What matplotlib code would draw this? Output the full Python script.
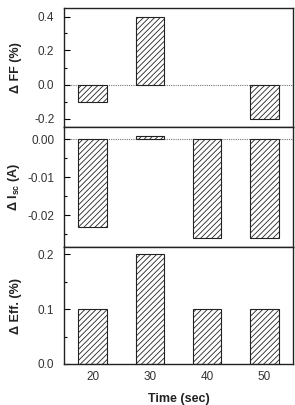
import matplotlib
matplotlib.use("Agg")
import matplotlib.pyplot as plt
from matplotlib.ticker import MultipleLocator, FormatStrFormatter

plt.rcParams['font.family'] = ['Liberation Sans', 'DejaVu Sans']
plt.rcParams['mathtext.fontset'] = 'custom'
plt.rcParams['mathtext.rm'] = 'Liberation Sans:bold'
plt.rcParams['mathtext.bf'] = 'Liberation Sans:bold'
plt.rcParams['mathtext.default'] = 'bf'
plt.rcParams['hatch.linewidth'] = 0.6
plt.rcParams['hatch.color'] = '#333333'

times = [20, 30, 40, 50]
d_ff = [-0.1, 0.4, 0.0, -0.2]
d_isc = [-0.023, 0.0008, -0.026, -0.026]
d_eff = [0.1, 0.2, 0.1, 0.1]

fig = plt.figure(figsize=(2.95, 4.05), dpi=100)
L, R = 64 / 295, 293 / 295
bounds = [(8, 127), (127, 247), (247, 364)]
axes = []
for (t, b) in bounds:
    ax = fig.add_axes([L, 1 - b / 405, R - L, (b - t) / 405])
    axes.append(ax)

panels = [
    (d_ff, (-0.25, 0.45), 0.2, 0.1, '%.1f', 'Δ FF (%)', True),
    (d_isc, (-0.0283, 0.0032), 0.01, 0.005, '%.2f', r'Δ I$_{sc}$ (A)', True),
    (d_eff, (0.0, 0.213), 0.1, 0.05, '%.1f', 'Δ Eff. (%)', False),
]

for ax, (vals, ylim, maj, mnr, fmt, lab, zline) in zip(axes, panels):
    xs = [t for t, v in zip(times, vals) if v != 0]
    hs = [v for v in vals if v != 0]
    ax.bar(xs, hs, width=5, color='white', edgecolor='#222222',
           hatch='//////', linewidth=0.8, zorder=2)
    ax.set_xlim(15, 55)
    ax.set_ylim(*ylim)
    if zline:
        ax.axhline(0, color='#777777', linestyle=(0, (1, 1)), linewidth=0.8, zorder=1)
    ax.yaxis.set_major_locator(MultipleLocator(maj))
    ax.yaxis.set_minor_locator(MultipleLocator(mnr))
    ax.yaxis.set_major_formatter(FormatStrFormatter(fmt))
    ax.tick_params(axis='y', which='major', direction='in', length=4, width=0.8,
                   labelsize=8.5, pad=7, labelcolor='#333333')
    ax.tick_params(axis='y', which='minor', direction='in', length=2.5, width=0.8)
    ax.set_xticks(times)
    ax.tick_params(axis='x', length=0, labelsize=8.5, pad=5, labelcolor='#333333')
    for s in ax.spines.values():
        s.set_linewidth(1.0)
        s.set_color('#222222')
    ax.set_ylabel(lab, fontsize=9, fontweight='bold', color='#222222')
    ax.yaxis.set_label_coords(-0.185, 0.5)

axes[0].tick_params(axis='x', labelbottom=False)
axes[1].tick_params(axis='x', labelbottom=False)
axes[2].set_xlabel('Time (sec)', fontsize=9, fontweight='bold', labelpad=7, color='#222222')

fig.savefig('out.png', dpi=100)
